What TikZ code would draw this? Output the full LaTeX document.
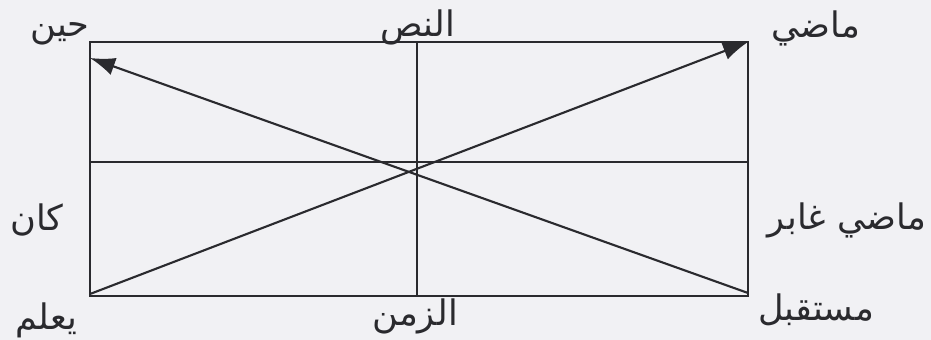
\documentclass[tikz,border=0pt]{standalone}
\usepackage{fontspec}
\usetikzlibrary{arrows.meta}
\newfontfamily\arabicfont[Script=Arabic]{DejaVu Sans}
\TeXXeTstate=1
\definecolor{ink}{HTML}{2A2A2E}
\definecolor{paper}{HTML}{F1F1F4}
\tikzset{
  frameline/.style={draw=ink,line width=0.6pt},
  timearr/.style={-{Latex[length=2.5mm,width=1.8mm]},line width=0.6pt,draw=ink,fill=ink},
  arlabel/.style={font=\arabicfont\fontsize{10}{12}\selectfont,text=ink,inner sep=0pt}
}

\begin{document}
\begin{tikzpicture}[x=0.01cm,y=-0.01cm]
  \fill[paper] (0,0) rectangle (931,340);
  \useasboundingbox (0,0) rectangle (931,340);

  % corners and middles of the frame
  \coordinate (tl) at (90,42);
  \coordinate (tr) at (748,42);
  \coordinate (bl) at (90,296);
  \coordinate (br) at (748,296);
  \coordinate (tm) at (417,42);
  \coordinate (bm) at (417,296);
  \coordinate (lm) at (90,162);
  \coordinate (rm) at (748,162);
  \coordinate (tlarr) at (90,58);
  \coordinate (blarr) at (90,294);
  \coordinate (brarr) at (748,293);

  \draw[frameline] (tl) rectangle (br);
  \draw[frameline] (tm) -- (bm);
  \draw[frameline] (lm) -- (rm);
  \draw[timearr] (blarr) -- (tr);
  \draw[timearr] (brarr) -- (tlarr);

  \node[arlabel] (hin) at (60,34) {\beginR حين\endR};
  \node[arlabel] (nass) at (418,27) {\beginR النص\endR};
  \node[arlabel] (madi) at (816,28) {\beginR ماضي\endR};
  \node[arlabel] (kana) at (37,220) {\beginR كان\endR};
  \node[arlabel] (ghabir) at (847,220) {\beginR ماضي غابر\endR};
  \node[arlabel] (yalam) at (46,320) {\beginR يعلم\endR};
  \node[arlabel] (zaman) at (415,316) {\beginR الزمن\endR};
  \node[arlabel] (mustaqbal) at (816,310) {\beginR مستقبل\endR};
\end{tikzpicture}
\end{document}
